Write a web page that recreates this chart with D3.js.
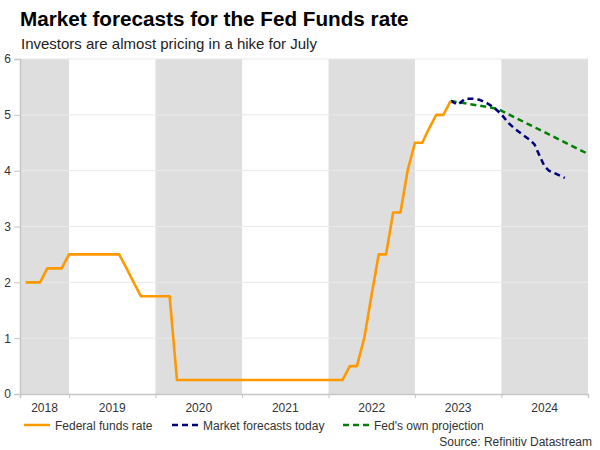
<!DOCTYPE html>
<html>
<head>
<meta charset="utf-8">
<script src="https://cdn.jsdelivr.net/npm/d3@7"></script>
<style>
  html, body { margin: 0; padding: 0; background: #fff; }
  svg { display: block; font-family: "Liberation Sans", Arial, sans-serif; }
</style>
</head>
<body>
<div id="chart"></div>
<script>
// Federal funds rate, upper bound, month-start values
var fedDates = ["2018-07-01","2018-08-01","2018-09-01","2018-10-01","2018-11-01","2018-12-01",
  "2019-01-01","2019-02-01","2019-03-01","2019-04-01","2019-05-01","2019-06-01","2019-07-01",
  "2019-08-01","2019-09-01","2019-10-01","2019-11-01","2019-12-01","2020-01-01","2020-02-01",
  "2020-03-01","2020-04-01","2022-03-01","2022-04-01","2022-05-01","2022-06-01","2022-07-01",
  "2022-08-01","2022-09-01","2022-10-01","2022-11-01","2022-12-01","2023-01-01","2023-02-01",
  "2023-03-01","2023-04-01","2023-05-01","2023-06-01"];
var fedValues = [2.0, 2.0, 2.0, 2.25, 2.25, 2.25,
  2.5, 2.5, 2.5, 2.5, 2.5, 2.5, 2.5,
  2.5, 2.25, 2.0, 1.75, 1.75, 1.75, 1.75,
  1.75, 0.25, 0.25, 0.5, 0.5, 1.0, 1.75,
  2.5, 2.5, 3.25, 3.25, 4.0, 4.5, 4.5,
  4.75, 5.0, 5.0, 5.25];

var mktDates = ["2023-06-01","2023-07-01","2023-08-01","2023-09-01","2023-10-01","2023-11-01",
  "2023-12-01","2024-01-01","2024-02-01","2024-03-01","2024-04-01","2024-05-01","2024-05-20",
  "2024-06-10","2024-07-01","2024-07-20","2024-08-15","2024-09-25"];
var mktValues = [5.25, 5.18, 5.29, 5.29, 5.27, 5.21,
  5.13, 5.01, 4.85, 4.74, 4.64, 4.55, 4.47,
  4.27, 4.08, 4.0, 3.95, 3.87];

var projDates = ["2023-06-01", "2023-12-15", "2025-01-01"];
var projValues = [5.25, 5.11, 4.3];

var years = [2018, 2019, 2020, 2021, 2022, 2023, 2024];
var shadedYears = [2018, 2020, 2022, 2024];
var yTicks = [0, 1, 2, 3, 4, 5, 6];

var legendLabels = ["Federal funds rate", "Market forecasts today", "Fed's own projection"];

var W = 600, H = 450;
var M = { t: 59, r: 12, b: 56, l: 20 };
var parse = d3.timeParse("%Y-%m-%d");
var COL = { fed: "#ff9900", mkt: "#00007f", proj: "#008000" };

var svg = d3.select("#chart").append("svg").attr("width", W).attr("height", H);

var start = parse("2018-06-08"), end = parse("2025-01-01");
var x = d3.scaleTime().domain([start, end]).range([M.l, W - M.r]);
var y = d3.scaleLinear().domain([0, 6]).range([H - M.b, M.t]);

// shaded year bands
svg.append("g").selectAll("rect").data(shadedYears).enter().append("rect")
  .attr("x", function (d) { return x(d3.max([start, new Date(d, 0, 1)])); })
  .attr("width", function (d) {
    return x(d3.min([end, new Date(d + 1, 0, 1)])) - x(d3.max([start, new Date(d, 0, 1)]));
  })
  .attr("y", y(6)).attr("height", y(0) - y(6))
  .attr("fill", "#dedede");

// gridlines
svg.append("g").selectAll("line").data(yTicks.slice(1)).enter().append("line")
  .attr("x1", x.range()[0]).attr("x2", x.range()[1])
  .attr("y1", function (d) { return y(d); }).attr("y2", function (d) { return y(d); })
  .attr("stroke", "#e9e9e9").attr("stroke-width", 1);

// y axis
var ay = svg.append("g").attr("transform", "translate(" + M.l + ",0)")
  .call(d3.axisLeft(y).tickValues(yTicks).tickSize(6).tickPadding(3).tickFormat(d3.format("d")));
ay.select(".domain").attr("stroke", "#c6c6c6").attr("stroke-width", 1.5);
ay.selectAll(".tick line").attr("stroke", "#c6c6c6");
ay.selectAll("text").attr("fill", "#333").style("font-size", "12px")
  .style("font-family", "'Liberation Sans', Arial, sans-serif");

// x axis: ticks at year boundaries, labels centred in each year
var bounds = years.slice(1).map(function (d) { return new Date(d, 0, 1); }).concat([end]);
var ax = svg.append("g").attr("transform", "translate(0," + y(0) + ")")
  .call(d3.axisBottom(x).tickValues(bounds).tickSize(4).tickFormat(""));
ax.select(".domain").attr("stroke", "#c6c6c6").attr("stroke-width", 1.5);
ax.selectAll(".tick line").attr("stroke", "#c6c6c6");
svg.append("g").selectAll("text").data(years).enter().append("text")
  .attr("x", function (d) {
    var a = d3.max([start, new Date(d, 0, 1)]), b = d3.min([end, new Date(d + 1, 0, 1)]);
    return (x(a) + x(b)) / 2;
  })
  .attr("y", y(0) + 18).attr("text-anchor", "middle")
  .attr("fill", "#333").style("font-size", "12px").text(function (d) { return d; });

// series
function series(dates, values) {
  return dates.map(function (d, i) { return [parse(d), values[i]]; });
}
var line = d3.line().x(function (d) { return x(d[0]); }).y(function (d) { return y(d[1]); });

svg.append("path").datum(series(projDates, projValues)).attr("d", line)
  .attr("fill", "none").attr("stroke", COL.proj).attr("stroke-width", 2.5)
  .attr("stroke-dasharray", "6 4");
svg.append("path").datum(series(mktDates, mktValues)).attr("d", line)
  .attr("fill", "none").attr("stroke", COL.mkt).attr("stroke-width", 2.5)
  .attr("stroke-dasharray", "6 4");
svg.append("path").datum(series(fedDates, fedValues)).attr("d", line)
  .attr("fill", "none").attr("stroke", COL.fed).attr("stroke-width", 2.6)
  .attr("stroke-linejoin", "round");

// titles
svg.append("text").attr("x", 20).attr("y", 26).attr("fill", "#000")
  .style("font-size", "20.7px").style("font-weight", "bold")
  .text("Market forecasts for the Fed Funds rate");
svg.append("text").attr("x", 21).attr("y", 49).attr("fill", "#222")
  .style("font-size", "15px").text("Investors are almost pricing in a hike for July");

// legend
var legX = [24, 172, 343];
var legCol = [COL.fed, COL.mkt, COL.proj];
var leg = svg.append("g").selectAll("g").data(legendLabels).enter().append("g")
  .attr("transform", function (d, i) { return "translate(" + legX[i] + "," + 425 + ")"; });
leg.append("line").attr("x1", 0).attr("x2", 26).attr("y1", 0).attr("y2", 0)
  .attr("stroke", function (d, i) { return legCol[i]; }).attr("stroke-width", 2.5)
  .attr("stroke-dasharray", function (d, i) { return i ? "6 4" : null; });
leg.append("text").attr("x", 31).attr("y", 4.5).attr("fill", "#333")
  .style("font-size", "12px").text(function (d) { return d; });

svg.append("text").attr("x", 592).attr("y", 446).attr("text-anchor", "end")
  .attr("fill", "#333").style("font-size", "12px").text("Source: Refinitiv Datastream");
</script>
</body>
</html>
